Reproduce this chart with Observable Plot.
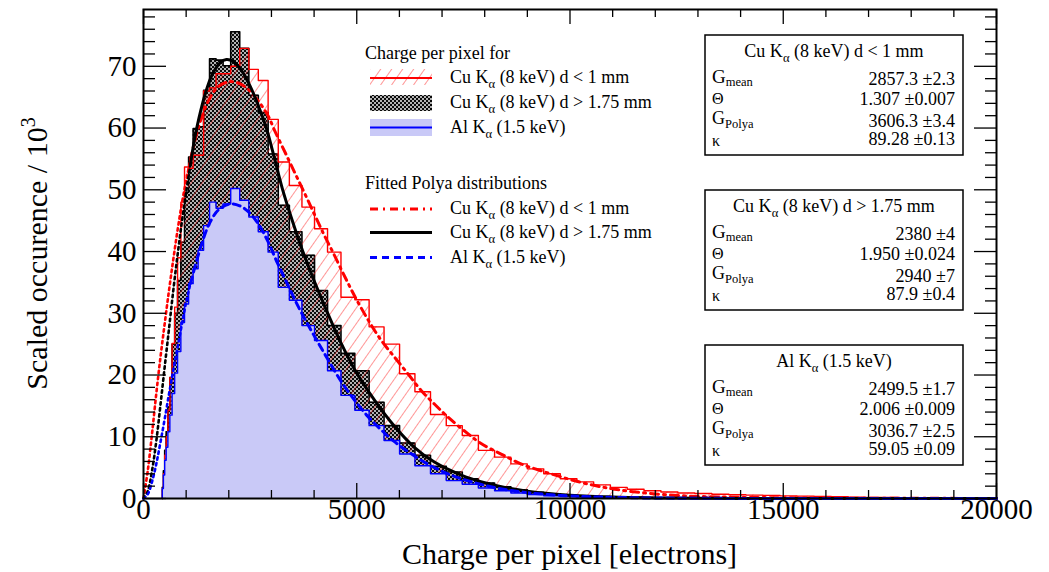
<!DOCTYPE html>
<html><head><meta charset="utf-8">
<script src="https://cdn.jsdelivr.net/npm/d3@7"></script>
<script src="https://cdn.jsdelivr.net/npm/@observablehq/plot@0.6"></script>
<style>body{margin:0;background:#fff;}</style>
</head><body>
<div id="chart"></div>
<script>
// ---- data ----
const binEdges = [441,467,497,532,572,618,671,731,799,876,962,1058,1164,1281,1409,1549,1701,1866,2045,2256,2470,2692,2922,3160,3420,3715,4010,4315,4630,4955,5290,5640,6004,6364,6729,7099,7474,7852,8232,8614,8998,9384,9772,10162,10554,10947,11341,11736,12132,12529,12927,13326,13726,14126,14526,14926,15326,15726,16126,16526,16926,17326,17726,18126,18526,18926,19326,19726,20000];

// Cu K-alpha (8 keV) d < 1 mm  (red hatched)
const cuThin = [1.5,4.0,7.0,10.0,14.3,19.6,25.1,31.0,39.0,48.0,
  53.7,53.5,55.6,55.6,66.0,66.5,68.8,68.8,70.0,72.9,
  69.5,67.7,61.4,54.5,50.7,47.2,43.7,39.9,32.6,32.2,
  27.8,25.0,20.2,17.3,13.6,11.8,10.2,7.8,6.7,5.6,
  4.8,4.0,3.2,2.7,2.2,1.8,1.5,1.25,1.05,0.9,
  0.8,0.7,0.6,0.55,0.5,0.42,0.38,0.33,0.28,0.22,
  0.18,0.15,0.12,0.1,0.08,0.07,0.05,0.04];

// Cu K-alpha (8 keV) d > 1.75 mm (black pattern)
const cuThick = [1.8,4.5,7.8,10.8,14.8,19.6,25.0,30.0,35.3,41.5,
  49.6,55.3,59.9,60.2,66.1,71.2,71.0,70.1,75.6,72.9,
  65.3,62.5,55.8,47.5,43.2,39.4,33.7,28.0,23.5,20.7,
  15.6,11.8,9.0,7.0,5.2,4.3,3.2,2.5,1.9,1.4,
  1.0,0.75,0.55,0.4,0.3,0.22,0.16,0.12,0.09,0.07,
  0.05,0.04,0.03,0.02,0.02,0.015,0.01,0.01,0.01,0.008,
  0.006,0.005,0.004,0.003,0.003,0.002,0.002,0.001];

// Al K-alpha (1.5 keV) (blue filled)
const alK = [1.6,3.8,6.2,8.3,10.8,13.5,17.0,20.3,23.8,28.5,
  31.5,34.8,37.2,40.2,44.2,48.0,47.0,47.7,50.2,48.3,
  45.6,43.2,39.9,34.2,32.1,28.0,25.6,20.7,16.7,14.3,
  11.8,9.4,7.2,5.3,4.0,2.9,2.3,1.7,1.25,0.9,
  0.65,0.45,0.32,0.22,0.15,0.1,0.07,0.05,0.035,0.025,
  0.02,0.015,0.01,0.01,0.008,0.006,0.005,0.004,0.003,0.003,
  0.002,0.002,0.002,0.001,0.001,0.001,0.001,0.001];

// Fitted Polya curves: [charge, occurence]
const fitThinOut = [[0,0],[100,4.5],[200,10.5],[300,17],[400,23],[500,28.5],[600,33.8],[700,38.8],[800,43.5],[900,47.8],[1000,51.5],[1100,54.8]];
const fitThin = [[1100,54.8],[1250,59.2],[1400,62.4],[1550,64.8],[1750,66.7],[2000,67.5],[2220,67.3],[2450,66.3],[2700,64.3],[2920,62.0],[3075,59.6],[3310,56.2],[3545,52.8],[3780,49.4],[4010,46.0],[4220,42.9],[4440,39.9],[4715,36.0],[4950,32.8],[5260,29.0],[5575,25.6],[5885,22.9],[6200,20.2],[6510,17.5],[6820,15.3],[7135,13.2],[7605,10.5],[7915,8.9],[8385,7.2],[8850,5.6],[9320,4.5],[9790,3.5],[10260,2.6],[10725,1.9],[11195,1.35],[11820,0.85],[12600,0.45],[13500,0.25],[15000,0.12],[17000,0.05],[20000,0.01]];
const fitThickOut = [[0,0],[100,1.2],[200,4.5],[300,9.3],[400,15.3],[500,21.5],[600,27.6],[700,33.8],[800,39.5],[900,44.8],[1000,49.6],[1100,54.1]];
const fitThick = [[1100,54.1],[1200,58.3],[1300,61.6],[1450,65.6],[1600,68.5],[1800,70.6],[1944,71.1],[2100,70.8],[2300,69.3],[2500,66.8],[2700,63.5],[2880,60.0],[3060,55.4],[3255,50.2],[3480,45.2],[3700,40.7],[4010,35.1],[4325,29.9],[4637,25.1],[4950,20.9],[5420,15.9],[5885,11.7],[6350,8.3],[6820,5.9],[7450,3.8],[8000,2.55],[8500,1.75],[9000,1.19],[9500,0.8],[10000,0.53],[11000,0.23],[12000,0.1],[13000,0.04],[14000,0.017],[16000,0.003],[20000,0]];
const fitAlOut = [[0,0],[100,0.7],[200,2.7],[300,5.6],[400,9.2],[500,13.0],[600,17.0],[700,20.8],[800,24.5],[900,28.2],[1000,31.8],[1100,34.8]];
const fitAl = [[1100,34.8],[1250,38.6],[1400,42.0],[1550,44.6],[1750,46.7],[2020,47.7],[2256,47.4],[2450,46.5],[2690,44.5],[2920,41.6],[3130,38.3],[3390,34.5],[3620,31.2],[3860,28.1],[4090,25.3],[4325,22.5],[4640,18.9],[4950,15.9],[5260,13.3],[5575,11.1],[5885,9.2],[6200,7.6],[6510,6.2],[6820,5.0],[7135,4.0],[7450,3.2],[7900,2.3],[8400,1.55],[9000,0.95],[9800,0.5],[10500,0.28],[11500,0.12],[13000,0.035],[15000,0.007],[20000,0]];

const xMajor = [0,5000,10000,15000,20000];
const xMinor = [1000,2000,3000,4000,6000,7000,8000,9000,11000,12000,13000,14000,16000,17000,18000,19000];
const yMajor = [0,10,20,30,40,50,60,70];
const yMinor = [2,4,6,8,12,14,16,18,22,24,26,28,32,34,36,38,42,44,46,48,52,54,56,58,62,64,66,68,72,74,76,78];

const statTitles = ["Cu K|α| (8 keV) d < 1 mm", "Cu K|α| (8 keV) d > 1.75 mm", "Al K|α| (1.5 keV)"];
const statValues = [
  ["2857.3 ±2.3","1.307 ±0.007","3606.3 ±3.4","89.28 ±0.13"],
  ["2380 ±4","1.950 ±0.024","2940 ±7","87.9 ±0.4"],
  ["2499.5 ±1.7","2.006 ±0.009","3036.7 ±2.5","59.05 ±0.09"]
];

// ---- build ----
function outline(vals){
  const pts=[{x:binEdges[0],y:0}];
  vals.forEach((v,i)=>{pts.push({x:binEdges[i],y:v});pts.push({x:binEdges[i+1],y:v});});
  pts.push({x:binEdges[vals.length],y:0});
  return pts;
}
const pThin = outline(cuThin), pThick = outline(cuThick), pAl = outline(alK);
const FONT = "Liberation Serif, Times New Roman, serif";
const fx = d=>d[0], fy = d=>d[1];
const W = 853, H = 489;

const svg = Plot.plot({
  width: 1049, height: 572,
  marginLeft: 143, marginRight: 53, marginTop: 9, marginBottom: 74,
  x: {domain: [0, 20000], axis: null},
  y: {domain: [0, 79.2], axis: null},
  style: {fontFamily: FONT, background: "white", overflow: "visible"},
  marks: [
    Plot.areaY(pThick, {x:"x", y1:0, y2:"y", fill:"url(#dots)"}),
    Plot.line(pThick, {x:"x", y:"y", stroke:"black", strokeWidth:1.6}),
    Plot.areaY(pThin, {x:"x", y1:0, y2:"y", fill:"url(#hatch)"}),
    Plot.line(pThin, {x:"x", y:"y", stroke:"#ff0000", strokeWidth:1.4}),
    Plot.areaY(pAl, {x:"x", y1:0, y2:"y", fill:"#c9c9f7"}),
    Plot.line(pAl, {x:"x", y:"y", stroke:"#0000ff", strokeWidth:1.4}),
    Plot.line(fitThinOut, {x:fx, y:fy, curve:"catmull-rom", stroke:"#ff0000", strokeWidth:2.6, strokeDasharray:"2.5,3.5"}),
    Plot.line(fitThin, {x:fx, y:fy, curve:"catmull-rom", stroke:"#ff0000", strokeWidth:3, strokeDasharray:"8,5,2,5"}),
    Plot.line(fitThickOut, {x:fx, y:fy, curve:"catmull-rom", stroke:"black", strokeWidth:2.6, strokeDasharray:"2.5,3.5"}),
    Plot.line(fitThick, {x:fx, y:fy, curve:"catmull-rom", stroke:"black", strokeWidth:3}),
    Plot.line(fitAlOut, {x:fx, y:fy, curve:"catmull-rom", stroke:"#0000ff", strokeWidth:2.6, strokeDasharray:"2.5,3.5"}),
    Plot.line(fitAl, {x:fx, y:fy, curve:"catmull-rom", stroke:"#0000ff", strokeWidth:3, strokeDasharray:"7,5"}),
    // ticks
    Plot.ruleX(xMajor, {x:d=>d, insetTop:H-15, stroke:"black", strokeWidth:1.3}),
    Plot.ruleX(xMinor, {x:d=>d, insetTop:H-8, stroke:"black", strokeWidth:1.3}),
    Plot.ruleX(xMajor, {x:d=>d, insetBottom:H-15, stroke:"black", strokeWidth:1.3}),
    Plot.ruleX(xMinor, {x:d=>d, insetBottom:H-8, stroke:"black", strokeWidth:1.3}),
    Plot.ruleY(yMajor, {y:d=>d, insetRight:W-23, stroke:"black", strokeWidth:1.3}),
    Plot.ruleY(yMinor, {y:d=>d, insetRight:W-12, stroke:"black", strokeWidth:1.3}),
    Plot.ruleY(yMajor, {y:d=>d, insetLeft:W-22, stroke:"black", strokeWidth:1.3}),
    Plot.ruleY(yMinor, {y:d=>d, insetLeft:W-11, stroke:"black", strokeWidth:1.3}),
    Plot.frame({stroke:"black", strokeWidth:2}),
    Plot.text(xMajor, {x:d=>d, frameAnchor:"bottom", dy:20, text:d=>String(d), fontSize:29, fontFamily:FONT, fill:"black"}),
    Plot.text(yMajor, {y:d=>d, frameAnchor:"left", dx:-7, textAnchor:"end", text:d=>String(d), fontSize:29, fontFamily:FONT, fill:"black"})
  ]
});

const root = d3.select(svg);
root.insert("defs", ":first-child").html(`
  <pattern id="hatch" width="9" height="9" patternUnits="userSpaceOnUse" patternTransform="rotate(35)">
    <line x1="0" y1="-1" x2="0" y2="10" stroke="#ff3030" stroke-width="1"/>
  </pattern>
  <pattern id="dots" width="4" height="4" patternUnits="userSpaceOnUse">
    <rect width="4" height="4" fill="#0a0a0a"/>
    <rect x="0.1" y="0.1" width="1.8" height="1.8" fill="#dcdcdc"/>
    <rect x="2.1" y="2.1" width="1.8" height="1.8" fill="#dcdcdc"/>
  </pattern>`);

const g = root.append("g").attr("font-family", FONT).attr("fill", "black").attr("text-anchor", "start");

// axis titles
g.append("text").attr("x", 569.5).attr("y", 564).attr("text-anchor","middle").attr("font-size",30).text("Charge per pixel [electrons]");
const yt = g.append("text").attr("transform","translate(47,253.5) rotate(-90)").attr("text-anchor","middle").attr("font-size",30);
yt.append("tspan").text("Scaled occurence / 10");
yt.append("tspan").attr("dy",-12).attr("font-size",20).text("3");

// rich text helper: "a|sub|b"
function rich(sel, x, y, str, size, anchor){
  const [a, s, b] = str.split("|");
  const t = sel.append("text").attr("x",x).attr("y",y).attr("font-size",size).attr("text-anchor",anchor||"start");
  t.append("tspan").text(a);
  if (s !== undefined){
    t.append("tspan").attr("dy",4.5).attr("font-size",size*0.7).text(s);
    t.append("tspan").attr("dy",-4.5).text(b);
  }
  return t;
}

// legend
const L = g.append("g");
L.append("text").attr("x",365).attr("y",59).attr("font-size",18).text("Charge per pixel for");
L.append("rect").attr("x",370).attr("y",69).attr("width",62).attr("height",16).attr("fill","url(#hatch)");
L.append("line").attr("x1",370).attr("x2",432).attr("y1",78).attr("y2",78).attr("stroke","#ff0000").attr("stroke-width",2);
rich(L, 450, 83, "Cu K|α| (8 keV) d < 1 mm", 18);
L.append("rect").attr("x",370).attr("y",95).attr("width",62).attr("height",16).attr("fill","url(#dots)");
rich(L, 450, 108, "Cu K|α| (8 keV) d > 1.75 mm", 18);
L.append("rect").attr("x",370).attr("y",119).attr("width",62).attr("height",17).attr("fill","#c9c9f7");
L.append("line").attr("x1",370).attr("x2",432).attr("y1",127.5).attr("y2",127.5).attr("stroke","#0000ff").attr("stroke-width",2);
rich(L, 450, 133, "Al K|α| (1.5 keV)", 18);
L.append("text").attr("x",365).attr("y",189).attr("font-size",18).text("Fitted Polya distributions");
L.append("line").attr("x1",370).attr("x2",432).attr("y1",209).attr("y2",209).attr("stroke","#ff0000").attr("stroke-width",3).attr("stroke-dasharray","8,5,2,5");
rich(L, 450, 214, "Cu K|α| (8 keV) d < 1 mm", 18);
L.append("line").attr("x1",370).attr("x2",432).attr("y1",232.5).attr("y2",232.5).attr("stroke","black").attr("stroke-width",3);
rich(L, 450, 238, "Cu K|α| (8 keV) d > 1.75 mm", 18);
L.append("line").attr("x1",370).attr("x2",432).attr("y1",257.5).attr("y2",257.5).attr("stroke","#0000ff").attr("stroke-width",3).attr("stroke-dasharray","7,5");
rich(L, 450, 263, "Al K|α| (1.5 keV)", 18);

// stat boxes
const tops = [35, 190, 345];
tops.forEach((t0, i) => {
  const B = g.append("g");
  B.append("rect").attr("x",705).attr("y",t0).attr("width",258).attr("height",120).attr("fill","white").attr("stroke","black").attr("stroke-width",1.5);
  rich(B, 834, t0+22, statTitles[i], 18, "middle");
  const lab = B.append("g").attr("font-size",18).attr("text-anchor","start");
  const g1 = lab.append("text").attr("x",712).attr("y",t0+48);
  g1.append("tspan").attr("font-size",19).text("G"); g1.append("tspan").attr("dy",3).attr("font-size",12.5).text("mean");
  lab.append("text").attr("x",712).attr("y",t0+69).attr("font-size",16).text("Θ");
  const g2 = lab.append("text").attr("x",712).attr("y",t0+89);
  g2.append("tspan").attr("font-size",18).text("G"); g2.append("tspan").attr("dy",4).attr("font-size",12.5).text("Polya");
  lab.append("text").attr("x",712).attr("y",t0+111).attr("font-size",16).text("κ");
  const vy = [50, 70, 92, 110];
  statValues[i].forEach((v, k) => {
    B.append("text").attr("x",955).attr("y",t0+vy[k]).attr("text-anchor","end").attr("font-size",18).text(v);
  });
});

document.getElementById("chart").appendChild(svg);
</script>
</body></html>
